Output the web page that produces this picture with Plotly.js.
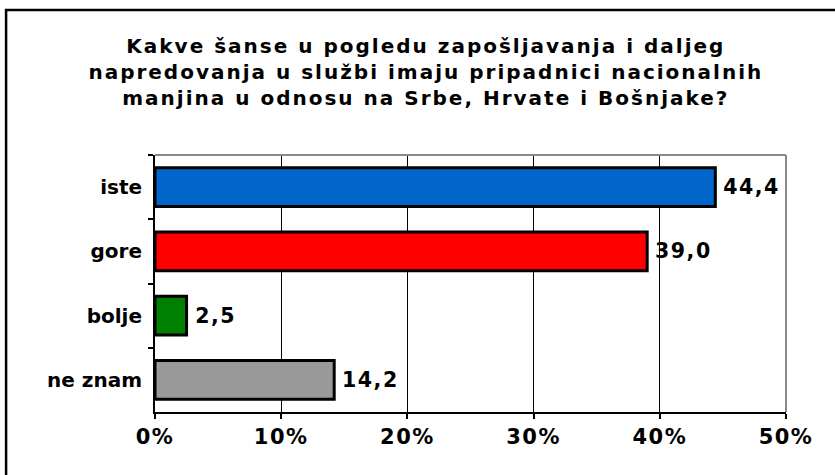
<!DOCTYPE html>
<html>
<head>
<meta charset="utf-8">
<script src="https://cdn.plot.ly/plotly-3.0.1.min.js"></script>
<style>
html,body{margin:0;padding:0;background:#fff;}
#chart{width:835px;height:475px;}
#chart .gtitle{letter-spacing:2px;}
#chart .xtick text{letter-spacing:1.5px;}
#chart .bartext{letter-spacing:1.5px;}
</style>
</head>
<body>
<div id="chart"></div>
<script>
const categories = ['iste', 'gore', 'bolje', 'ne znam'];
const values = [44.4, 39.0, 2.5, 14.2];
const valueLabels = ['44,4', '39,0', '2,5', '14,2'];
const barColors = ['#0066CC', '#FF0000', '#008000', '#999999'];
const tickVals = [0, 10, 20, 30, 40, 50];
const tickText = ['0%', '10%', '20%', '30%', '40%', '50%'];
const titleText = 'Kakve šanse u pogledu zapošljavanja i daljeg<br>napredovanja u službi imaju pripadnici nacionalnih<br>manjina u odnosu na Srbe, Hrvate i Bošnjake?';

const FONT = 'DejaVu Sans, Verdana, sans-serif';

const trace = {
  type: 'bar',
  orientation: 'h',
  y: categories,
  x: values,
  text: valueLabels.map(function (t) { return ' ' + t; }),
  textposition: 'outside',
  cliponaxis: false,
  textfont: {family: FONT, size: 20.5, color: '#000', weight: 'bold'},
  marker: {color: barColors, line: {color: '#000', width: 3}},
  hoverinfo: 'none'
};

const layout = {
  width: 835, height: 475,
  margin: {l: 155, r: 49, t: 155, b: 63},
  paper_bgcolor: '#fff', plot_bgcolor: '#fff',
  showlegend: false,
  bargap: 0.4,
  title: {
    text: titleText,
    font: {family: FONT, size: 20, color: '#000', weight: 'bold'},
    x: 0.51, xanchor: 'center', y: 0.889, yanchor: 'top'
  },
  xaxis: {
    range: [0, 50], tickvals: tickVals, ticktext: tickText,
    showgrid: true, gridcolor: '#000', gridwidth: 1,
    zeroline: false,
    showline: true, linecolor: '#000', linewidth: 2,
    ticks: 'outside', ticklen: 5, tickcolor: '#000', tickwidth: 2,
    tickfont: {family: FONT, size: 21, color: '#000', weight: 'bold'},
    fixedrange: true
  },
  yaxis: {
    autorange: 'reversed',
    showline: true, linecolor: '#000', linewidth: 2,
    ticks: 'outside', ticklen: 5, tickcolor: '#000', tickwidth: 2,
    tickson: 'boundaries',
    showgrid: false,
    ticksuffix: ' ',
    tickfont: {family: FONT, size: 20, color: '#000', weight: 'bold'},
    fixedrange: true
  },
  shapes: [
    {type: 'line', xref: 'paper', yref: 'paper', x0: 0, x1: 1, y0: 1, y1: 1, line: {color: '#888', width: 2}},
    {type: 'line', xref: 'paper', yref: 'paper', x0: 1, x1: 1, y0: 0, y1: 1, line: {color: '#888', width: 2}},
    {type: 'rect', xref: 'paper', yref: 'paper', x0: -0.236, x1: 1.1, y0: -0.3, y1: 1.564, line: {color: '#000', width: 2.5}, fillcolor: 'rgba(0,0,0,0)'}
  ]
};

Plotly.newPlot('chart', [trace], layout, {displayModeBar: false, staticPlot: true});
</script>
</body>
</html>
